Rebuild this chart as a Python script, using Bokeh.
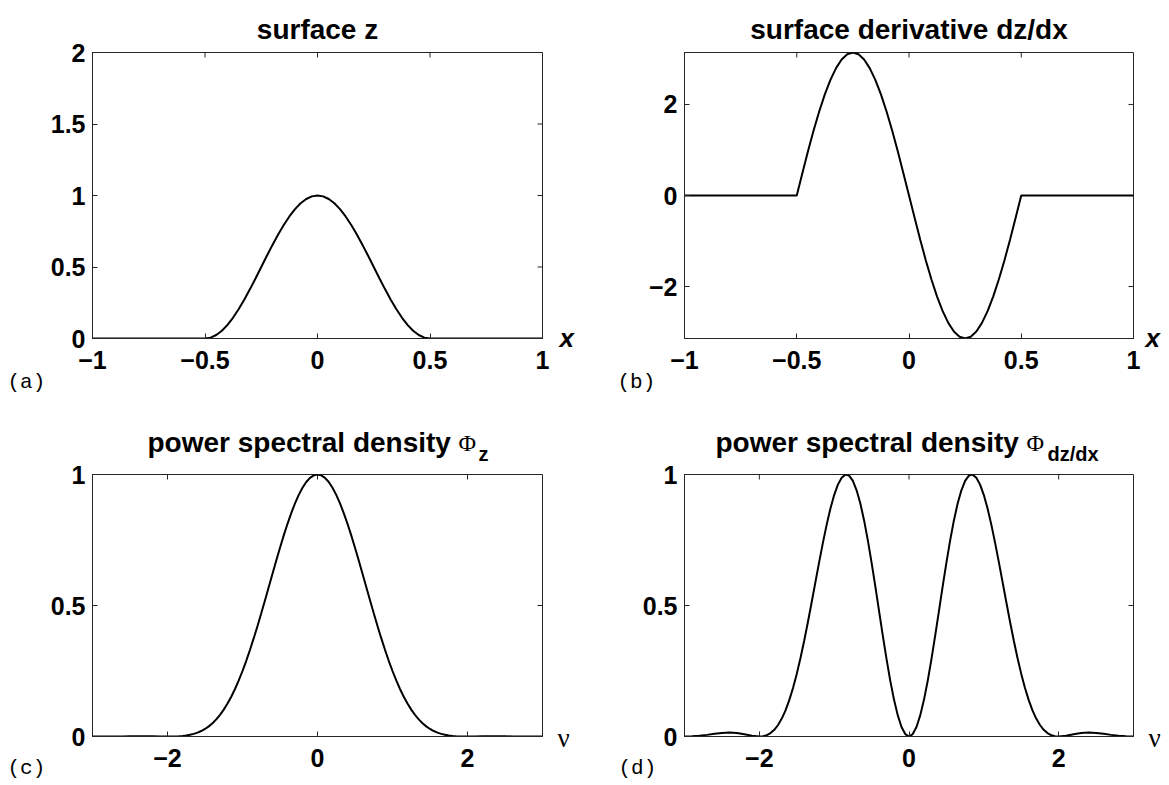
from bokeh.plotting import figure
from bokeh.models import Label, LinearAxis, FixedTicker, CustomJSTickFormatter, Range1d, GridBox
from bokeh.embed import file_html
from bokeh.resources import INLINE

# ---------------- data ----------------
xa = [-1.0, -0.5, -0.475, -0.45, -0.425, -0.4, -0.375, -0.35, -0.325, -0.3, -0.275,
      -0.25, -0.225, -0.2, -0.175, -0.15, -0.125, -0.1, -0.075, -0.05, -0.025, 0.0,
      0.025, 0.05, 0.075, 0.1, 0.125, 0.15, 0.175, 0.2, 0.225, 0.25, 0.275, 0.3,
      0.325, 0.35, 0.375, 0.4, 0.425, 0.45, 0.475, 0.5, 1.0]
surface_z = [0.0, 0.0, 0.0062, 0.0245, 0.0545, 0.0955, 0.1464, 0.2061, 0.2730, 0.3455, 0.4218,
             0.5, 0.5782, 0.6545, 0.7270, 0.7939, 0.8536, 0.9045, 0.9455, 0.9755, 0.9938, 1.0,
             0.9938, 0.9755, 0.9455, 0.9045, 0.8536, 0.7939, 0.7270, 0.6545, 0.5782, 0.5, 0.4218, 0.3455,
             0.2730, 0.2061, 0.1464, 0.0955, 0.0545, 0.0245, 0.0062, 0.0, 0.0]
surface_dzdx = [0.0, 0.0, 0.4914, 0.9708, 1.4263, 1.8466, 2.2214, 2.5416, 2.7992, 2.9878, 3.1029,
                3.1416, 3.1029, 2.9878, 2.7992, 2.5416, 2.2214, 1.8466, 1.4263, 0.9708, 0.4914, 0.0,
                -0.4914, -0.9708, -1.4263, -1.8466, -2.2214, -2.5416, -2.7992, -2.9878, -3.1029, -3.1416, -3.1029, -2.9878,
                -2.7992, -2.5416, -2.2214, -1.8466, -1.4263, -0.9708, -0.4914, 0.0, 0.0]

nu = [-3.0, -2.9, -2.8, -2.7, -2.6, -2.5, -2.4, -2.3, -2.2, -2.1,
      -2.0, -1.95, -1.9, -1.85, -1.8, -1.75, -1.7, -1.65, -1.6, -1.55,
      -1.5, -1.45, -1.4, -1.35, -1.3, -1.25, -1.2, -1.15, -1.1, -1.05,
      -1.0, -0.95, -0.9, -0.85, -0.8, -0.75, -0.7, -0.65, -0.6, -0.55,
      -0.5, -0.45, -0.4, -0.35, -0.3, -0.25, -0.2, -0.15, -0.1, -0.05,
      0.0,
      0.05, 0.1, 0.15, 0.2, 0.25, 0.3, 0.35, 0.4, 0.45, 0.5,
      0.55, 0.6, 0.65, 0.7, 0.75, 0.8, 0.85, 0.9, 0.95, 1.0,
      1.05, 1.1, 1.15, 1.2, 1.25, 1.3, 1.35, 1.4, 1.45, 1.5,
      1.55, 1.6, 1.65, 1.7, 1.75, 1.8, 1.85, 1.9, 1.95, 2.0,
      2.1, 2.2, 2.3, 2.4, 2.5, 2.6, 2.7, 2.8, 2.9, 3.0]
psd_z = [0.0, 0.0, 0.0001, 0.0002, 0.0004, 0.0006, 0.0007, 0.0007, 0.0005, 0.0002,
         0.0, 0.0001, 0.0004, 0.0010, 0.0022, 0.0039, 0.0064, 0.0100, 0.0147, 0.0209,
         0.0288, 0.0387, 0.0507, 0.0652, 0.0824, 0.1025, 0.1256, 0.1518, 0.1813, 0.2141,
         0.25, 0.2890, 0.3309, 0.3753, 0.4220, 0.4705, 0.5204, 0.5709, 0.6215, 0.6716,
         0.7205, 0.7675, 0.8118, 0.8528, 0.8898, 0.9223, 0.9496, 0.9714, 0.9872, 0.9968,
         1.0,
         0.9968, 0.9872, 0.9714, 0.9496, 0.9223, 0.8898, 0.8528, 0.8118, 0.7675, 0.7205,
         0.6716, 0.6215, 0.5709, 0.5204, 0.4705, 0.4220, 0.3753, 0.3309, 0.2890, 0.25,
         0.2141, 0.1813, 0.1518, 0.1256, 0.1025, 0.0824, 0.0652, 0.0507, 0.0387, 0.0288,
         0.0209, 0.0147, 0.0100, 0.0064, 0.0039, 0.0022, 0.0010, 0.0004, 0.0001, 0.0,
         0.0002, 0.0005, 0.0007, 0.0007, 0.0006, 0.0004, 0.0002, 0.0001, 0.0, 0.0]
psd_dzdx = [0.0, 0.0007, 0.0028, 0.0062, 0.0102, 0.0136, 0.0149, 0.0133, 0.0087, 0.0031,
            0.0, 0.0012, 0.0052, 0.0131, 0.0257, 0.0439, 0.0684, 0.0999, 0.1388, 0.1852,
            0.2390, 0.2998, 0.3666, 0.4382, 0.5134, 0.5901, 0.6665, 0.7401, 0.8087, 0.8699,
            0.9215, 0.9614, 0.9879, 0.9995, 0.9956, 0.9756, 0.9398, 0.8890, 0.8247, 0.7488,
            0.6639, 0.5728, 0.4787, 0.3851, 0.2952, 0.2125, 0.1400, 0.0806, 0.0364, 0.0092,
            0.0,
            0.0092, 0.0364, 0.0806, 0.1400, 0.2125, 0.2952, 0.3851, 0.4787, 0.5728, 0.6639,
            0.7488, 0.8247, 0.8890, 0.9398, 0.9756, 0.9956, 0.9995, 0.9879, 0.9614, 0.9215,
            0.8699, 0.8087, 0.7401, 0.6665, 0.5901, 0.5134, 0.4382, 0.3666, 0.2998, 0.2390,
            0.1852, 0.1388, 0.0999, 0.0684, 0.0439, 0.0257, 0.0131, 0.0052, 0.0012, 0.0,
            0.0031, 0.0087, 0.0133, 0.0149, 0.0136, 0.0102, 0.0062, 0.0028, 0.0007, 0.0]

ticks_a_x = [-1, -0.5, 0, 0.5, 1]
ticks_a_y = [0, 0.5, 1, 1.5, 2]
ticks_b_y = [-2, 0, 2]
ticks_c_x = [-2, 0, 2]
ticks_c_y = [0, 0.5, 1]

titles = {"a": "surface z", "b": "surface derivative dz/dx",
          "c": "power spectral density", "d": "power spectral density"}
subscripts = {"c": "z", "d": "dz/dx"}
panel_tags = {"a": "(a)", "b": "(b)", "c": "(c)", "d": "(d)"}
var_labels = {"a": "x", "b": "x", "c": "\u03bd", "d": "\u03bd"}

# ---------------- style ----------------
SANS = "Liberation Sans"
SERIF = "Liberation Serif"
MONO = "Liberation Mono"
AX = "#262626"
TICK_FS = "25px"
TICK_LEN = 5
PAGE_W, PAGE_H = 1169, 784

fmt_code = "return (tick < 0 ? '\u2212' : '') + Math.abs(tick).toString();"

# panel geometry: (width, height, borders(l, r, t, b), xrange, yrange)
specs = {
    "a": (600, 400, (92, 58, 52, 62), (-1, 1), (0, 2)),
    "b": (569, 400, (84, 36, 52, 62), (-1, 1), (-3.1416, 3.1416)),
    "c": (600, 384, (92, 58, 74, 48), (-3, 3), (0, 1)),
    "d": (569, 384, (84, 36, 74, 48), (-3, 3), (0, 1)),
}


def make_panel(key, xt, yt):
    width, height, (left, right, top, bottom), xr, yr = specs[key]
    p = figure(width=width, height=height, x_range=Range1d(*xr), y_range=Range1d(*yr),
               output_backend="svg", toolbar_location=None, title=None,
               min_border_left=left, min_border_right=right,
               min_border_top=top, min_border_bottom=bottom,
               x_axis_location=None, y_axis_location=None)
    p.grid.visible = False
    p.outline_line_color = AX
    p.outline_line_width = 1
    p.background_fill_color = "white"
    p.border_fill_color = "white"
    for loc, ticks in (("below", xt), ("left", yt)):
        ax = LinearAxis(ticker=FixedTicker(ticks=ticks),
                        formatter=CustomJSTickFormatter(code=fmt_code))
        ax.axis_line_color = AX
        ax.major_tick_line_color = AX
        ax.major_tick_in = TICK_LEN
        ax.major_tick_out = 0
        ax.minor_tick_line_color = None
        ax.major_label_text_font = SANS
        ax.major_label_text_font_style = "bold"
        ax.major_label_text_font_size = TICK_FS
        ax.major_label_text_color = "black"
        ax.major_label_standoff = 12 if loc == "below" else 7
        p.add_layout(ax, loc)
    # inward ticks on the top and right edges (MATLAB box style)
    fw = width - left - right
    fh = height - top - bottom
    dy = TICK_LEN / fh * (yr[1] - yr[0])
    dx = TICK_LEN / fw * (xr[1] - xr[0])
    p.segment(x0=xt, x1=xt, y0=[yr[1]] * len(xt), y1=[yr[1] - dy] * len(xt),
              line_color=AX, line_width=1)
    p.segment(x0=[xr[1]] * len(yt), x1=[xr[1] - dx] * len(yt), y0=yt, y1=yt,
              line_color=AX, line_width=1)
    return p


pa = make_panel("a", ticks_a_x, ticks_a_y)
pb = make_panel("b", ticks_a_x, ticks_b_y)
pc = make_panel("c", ticks_c_x, ticks_c_y)
pd = make_panel("d", ticks_c_x, ticks_c_y)

LW = 2
pa.line(xa, surface_z, line_color="black", line_width=LW)
pb.line(xa, surface_dzdx, line_color="black", line_width=LW)
pc.line(nu, psd_z, line_color="black", line_width=LW)
pd.line(nu, psd_dzdx, line_color="black", line_width=LW)

# transparent overlay covering the page, holding the texts around the axes
ov = figure(width=PAGE_W, height=PAGE_H, x_range=Range1d(0, PAGE_W), y_range=Range1d(PAGE_H, 0),
            output_backend="svg", toolbar_location=None, title=None,
            min_border=0, x_axis_location=None, y_axis_location=None)
ov.grid.visible = False
ov.outline_line_color = None
ov.background_fill_color = None
ov.border_fill_color = None


def add_text(px, py, text, font, size, style="normal", align="left", baseline="alphabetic"):
    ov.add_layout(Label(x=px, y=py, text=text, text_font=font, text_font_size=size,
                        text_font_style=style, text_align=align, text_baseline=baseline,
                        text_color="black"))


# titles
add_text(317, 29, titles["a"], SANS, "28px", "bold", "center")
add_text(908.5, 29, titles["b"], SANS, "28px", "bold", "center")
add_text(147, 442, titles["c"], SANS, "28px", "bold")
add_text(458, 442, "\u03a6", SERIF, "24px")
add_text(478, 453, subscripts["c"], SANS, "20px", "bold")
add_text(715, 442, titles["d"], SANS, "28px", "bold")
add_text(1026, 442, "\u03a6", SERIF, "24px")
add_text(1047, 453, subscripts["d"], SANS, "20px", "bold")

# axis variable labels
add_text(559, 337, var_labels["a"], SANS, "26px", "bold italic")
add_text(1145, 337, var_labels["b"], SANS, "26px", "bold italic")
add_text(557, 737, var_labels["c"], SERIF, "27px")
add_text(1148, 737, var_labels["d"], SERIF, "27px")

# panel letters
add_text(7, 382, panel_tags["a"], MONO, "21px", baseline="middle")
add_text(617, 382, panel_tags["b"], MONO, "21px", baseline="middle")
add_text(7, 768, panel_tags["c"], MONO, "21px", baseline="middle")
add_text(618, 768, panel_tags["d"], MONO, "21px", baseline="middle")

# empty outer tracks (rows/cols 0 and 3) keep the overlay's frame unaligned with the panels
layout = GridBox(children=[(pa, 1, 1), (pb, 1, 2), (pc, 2, 1), (pd, 2, 2), (ov, 0, 0, 4, 4)],
                 spacing=0)
open("out.html", "w").write(file_html(layout, INLINE))
